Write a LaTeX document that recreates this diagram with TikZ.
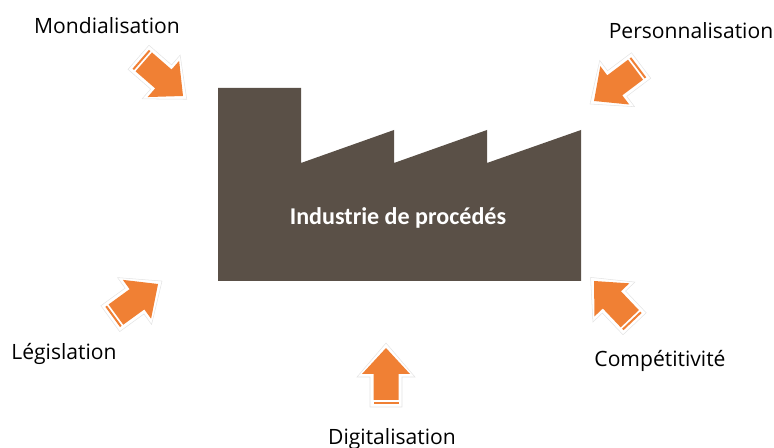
\documentclass[tikz,border=0pt]{standalone}
\usepackage{fontspec}
\setmainfont{Open Sans}
\newfontfamily\factoryfont{Carlito}
\definecolor{factorybrown}{HTML}{5A5047}
\definecolor{pushorange}{HTML}{F08034}
\definecolor{haloline}{HTML}{E4E4E4}
\newcommand\pusharrow[3]{% tip x, tip y, turn
\begin{scope}[shift={(#1,#2)},rotate=#3]
  \draw[haloline,fill=white,line width=.3pt] (0,-5) -- (29,29) -- (16,29) -- (16,59) -- (-16,59) -- (-16,29) -- (-29,29) -- cycle;
  \fill[pushorange] (0,0) -- (24,26) -- (12.5,26) -- (12.5,52) -- (-12.5,52) -- (-12.5,26) -- (-24,26) -- cycle;
  \fill[pushorange] (-12.5,54) rectangle (12.5,56);
\end{scope}
}
\tikzset{
  force/.style={font=\fontsize{12pt}{14pt}\selectfont,text=black,inner sep=0pt},
}
\begin{document}
\begin{tikzpicture}[x=0.02cm,y=-0.02cm]
    \useasboundingbox (0,0) rectangle (774,448);
    \fill[factorybrown] (218,88) -- (301,88) -- (301,163) -- (394,130) -- (394,163) -- (487,130) -- (487,163) -- (581,130) -- (581,281) -- (218,281) -- cycle;
    \node[text=white,font=\factoryfont\fontsize{13.7pt}{16pt}\selectfont\bfseries] (factory) at (398,218) {Industrie de procédés};

    \pusharrow{183}{96}{-131}
    \pusharrow{594}{101}{127}
    \pusharrow{158}{284}{-54}
    \pusharrow{594}{281}{43.5}
    \pusharrow{386}{348}{0}

    \foreach \x/\y/\t/\k in {107/26/Mondialisation/mond,691/31/Personnalisation/pers,64/354/Législation/legi,660/361/Compétitivité/comp,392/439/Digitalisation/digi}
      \node[force] (\k) at (\x,\y) {\t};
\end{tikzpicture}
\end{document}
